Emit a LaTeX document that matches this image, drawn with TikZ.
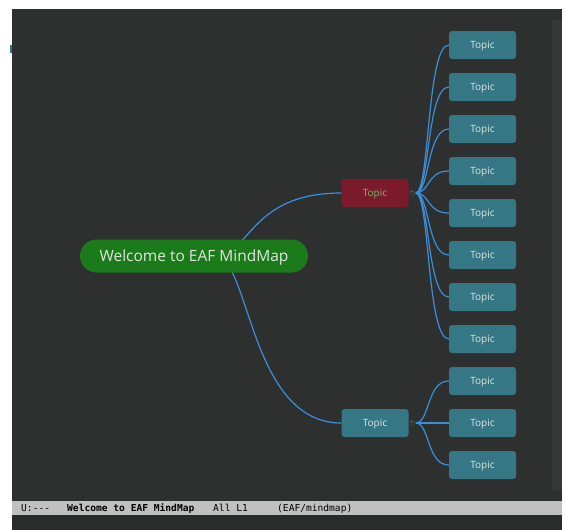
\documentclass[tikz,border=0pt]{standalone}
\usepackage{fontspec}
\setmainfont{Open Sans}
\newfontfamily\modefont{DejaVu Sans Mono}
\usetikzlibrary{backgrounds}
\pgfdeclarelayer{edges}
\pgfsetlayers{background,edges,main}
\definecolor{emacsbg}{RGB}{46,48,48}
\definecolor{scrollbg}{RGB}{54,56,56}
\definecolor{echobg}{RGB}{42,44,44}
\definecolor{modegray}{RGB}{192,192,192}
\definecolor{rootgreen}{RGB}{27,123,27}
\definecolor{topicteal}{RGB}{53,119,133}
\definecolor{topicred}{RGB}{123,26,43}
\definecolor{linkblue}{RGB}{58,143,220}
\definecolor{lighttext}{RGB}{222,230,222}
\definecolor{greentext}{RGB}{108,192,112}
\begin{document}
\begin{tikzpicture}[x=1pt,y=-1pt,
    topic/.style={fill=topicteal,rounded corners=3pt,minimum width=67pt,minimum height=28pt,inner sep=0pt,text depth=0pt,text=lighttext,font=\fontsize{10}{12}\selectfont},
    root/.style={fill=rootgreen,rounded corners=16.5pt,minimum width=228pt,minimum height=33pt,inner sep=0pt,text depth=0pt,text=lighttext,font=\fontsize{15.5}{18}\selectfont},
    fold/.style={circle,fill=scrollbg,minimum size=7pt,inner sep=0pt,text=lighttext,font=\fontsize{5}{5}\selectfont},
    link/.style={linkblue,line width=1.2pt},
    modetext/.style={anchor=base west,inner sep=0pt,font=\modefont\fontsize{9.6}{11}\selectfont}]
    \useasboundingbox (0,0) rectangle (566,530);

    % window
    \begin{pgfonlayer}{background}
        \fill[white] (0,0) rectangle (566,530);
        \fill[emacsbg] (12,9) rectangle (562,501);
        \fill[scrollbg] (552,20) rectangle (562,490);
        \fill[topicteal] (10,45) rectangle (12,53);
        \fill[modegray] (12,501) rectangle (562,515);
        \fill[echobg] (12,515) rectangle (562,530);
    \end{pgfonlayer}

    % mind map
    \node[root] (welcome) at (194,256) {Welcome to EAF MindMap};
    \node[topic,fill=topicred,text=greentext] (upper) at (375,193) {Topic};
    \node[topic] (lower) at (375,423) {Topic};
    \node[fold] (upperfold) at (412,193) {-};
    \node[fold] (lowerfold) at (412,423) {-};

    \node[topic] (t1) at (482.5,45) {Topic};
    \node[topic] (t2) at (482.5,87) {Topic};
    \node[topic] (t3) at (482.5,129) {Topic};
    \node[topic] (t4) at (482.5,171) {Topic};
    \node[topic] (t5) at (482.5,213) {Topic};
    \node[topic] (t6) at (482.5,255) {Topic};
    \node[topic] (t7) at (482.5,297) {Topic};
    \node[topic] (t8) at (482.5,339) {Topic};
    \node[topic] (t9) at (482.5,381) {Topic};
    \node[topic] (t10) at (482.5,423) {Topic};
    \node[topic] (t11) at (482.5,465) {Topic};

    % links
    \begin{pgfonlayer}{edges}
        \draw[link] ([xshift=21pt]welcome.center) .. controls +(35,0) and +(-92,0) .. (upper.west);
        \draw[link] ([xshift=21pt]welcome.center) .. controls +(35,0) and +(-92,0) .. (lower.west);
        \draw[link] (upperfold.east) .. controls +(14,0) and +(-22,0) .. (t1.west);
        \draw[link] (upperfold.east) .. controls +(14,0) and +(-22,0) .. (t2.west);
        \draw[link] (upperfold.east) .. controls +(14,0) and +(-22,0) .. (t3.west);
        \draw[link] (upperfold.east) .. controls +(14,0) and +(-22,0) .. (t4.west);
        \draw[link] (upperfold.east) .. controls +(14,0) and +(-22,0) .. (t5.west);
        \draw[link] (upperfold.east) .. controls +(14,0) and +(-22,0) .. (t6.west);
        \draw[link] (upperfold.east) .. controls +(14,0) and +(-22,0) .. (t7.west);
        \draw[link] (upperfold.east) .. controls +(14,0) and +(-22,0) .. (t8.west);
        \draw[link] (lowerfold.east) .. controls +(14,0) and +(-22,0) .. (t9.west);
        \draw[link] (lowerfold.east) .. controls +(14,0) and +(-22,0) .. (t10.west);
        \draw[link] (lowerfold.east) .. controls +(14,0) and +(-22,0) .. (t11.west);
    \end{pgfonlayer}

    % mode line
    \node[modetext] (status) at (21,511) {U:---};
    \node[modetext,font=\modefont\bfseries\fontsize{9.6}{11}\selectfont] (buffer) at (67,511) {Welcome to EAF MindMap};
    \node[modetext] (position) at (213,511) {All L1};
    \node[modetext] (mode) at (277,511) {(EAF/mindmap)};
\end{tikzpicture}
\end{document}
